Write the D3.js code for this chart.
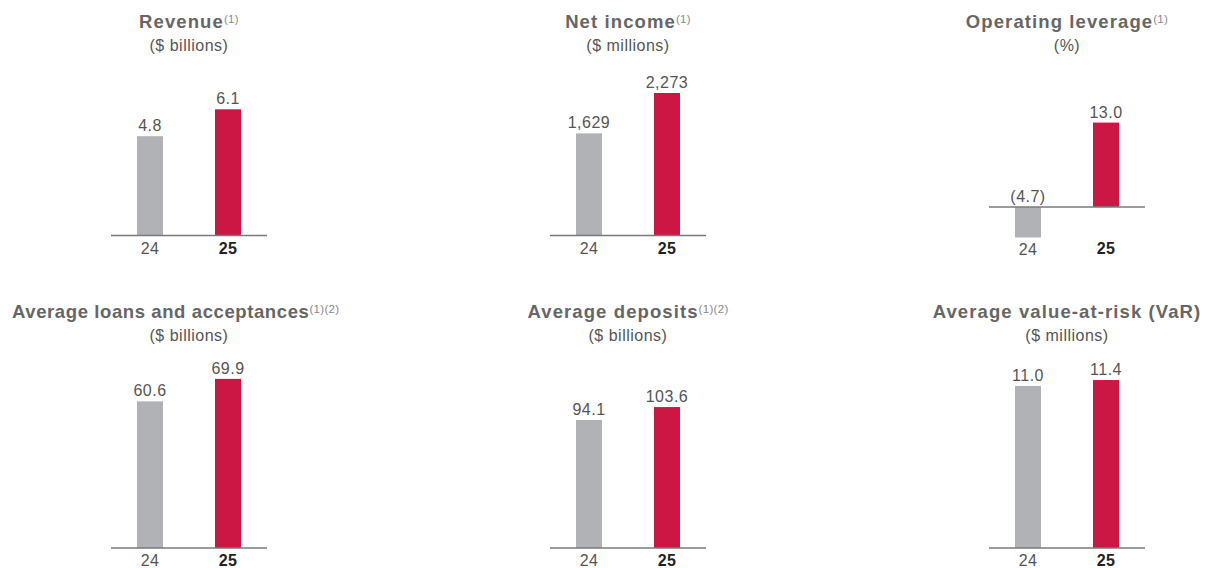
<!DOCTYPE html>
<html>
<head>
<meta charset="utf-8">
<script src="https://cdn.jsdelivr.net/npm/d3@7"></script>
<style>
    html, body { margin: 0; padding: 0; background: #fff; }
    svg { display: block; font-family: "Liberation Sans", Arial, sans-serif; }
</style>
</head>
<body>
<div id="vis"></div>
<script>
// data
var years = ["24", "25"];
var titles = ["Revenue", "Net income", "Operating leverage",
    "Average loans and acceptances", "Average deposits", "Average value-at-risk (VaR)"];
var notes = ["(1)", "(1)", "(1)", "(1)(2)", "(1)(2)", ""];
var units = ["($ billions)", "($ millions)", "(%)", "($ billions)", "($ billions)", "($ millions)"];
var values = [
    [4.8, 6.1],
    [1629, 2273],
    [-4.7, 13.0],
    [60.6, 69.9],
    [94.1, 103.6],
    [11.0, 11.4]
];
var formats = [".1f", ",.0f", ".1f", ".1f", ".1f", ".1f"];
var yDomains = [[0, 8], [0, 2640], [-4.4, 21.1], [0, 77.7], [0, 138.2], [0, 12.76]];

var barColors = ["#b1b2b6", "#cc1744"];

// layout
var width = 1206, height = 568;
var colX = [111, 550, 989];
var axisLen = 156;
var rows = [
    { bottom: 235.5, top: 70, title: 28, unit: 51, tick: 253.5 },
    { bottom: 548, top: 360, title: 318, unit: 341, tick: 566 }
];

var svg = d3.select("#vis")
    .append("svg")
        .attr("width", width)
        .attr("height", height);

var x = d3.scaleBand()
    .domain(years)
    .range([0, axisLen])
    .paddingInner(2 / 3)
    .paddingOuter(1 / 3);

function fmt(v, f)
{
    var s = d3.format(f)(Math.abs(v));
    return v < 0 ? "(" + s + ")" : s;
}

for(var i = 0; i < titles.length; ++i)
{
    var row = rows[Math.floor(i / 3)];
    var x0 = colX[i % 3];
    var cx = x0 + axisLen / 2;

    var y = d3.scaleLinear()
        .domain(yDomains[i])
        .range([row.bottom, row.top]);

    var g = svg.append("g")
        .attr("transform", "translate(" + x0 + ",0)");

    // title + footnote marks
    var title = svg.append("text")
        .attr("x", cx)
        .attr("y", row.title)
        .attr("text-anchor", "middle")
        .attr("fill", "#666")
        .style("font-size", "18.5px")
        .style("font-weight", "bold")
        .style("letter-spacing", "1.1px");
    title.append("tspan").text(titles[i]);
    if(notes[i])
    {
        title.append("tspan")
            .attr("dy", -5)
            .attr("fill", "#888")
            .style("font-size", "11.5px")
            .style("font-weight", "normal")
            .style("letter-spacing", "0.3px")
            .text(notes[i]);
    }
    // long titles get tighter and are pushed to the page edge
    var bb = title.node().getBBox();
    if(bb.width > 300)
    {
        title.style("letter-spacing", "0.6px");
        bb = title.node().getBBox();
        title.attr("text-anchor", "start").attr("x", 12);
    }

    svg.append("text")
        .attr("x", cx)
        .attr("y", row.unit)
        .attr("text-anchor", "middle")
        .attr("fill", "#555")
        .style("font-size", "16px")
        .style("letter-spacing", "0.5px")
        .text(units[i]);

    var d = years.map(function(yr, j) { return { year: yr, v: values[i][j], c: barColors[j], f: formats[i] }; });

    g.selectAll("rect.bar")
        .data(d)
        .enter()
        .append("rect")
            .attr("class", "bar")
            .attr("x", function(e) { return x(e.year); })
            .attr("width", x.bandwidth())
            .attr("y", function(e) { return Math.min(y(e.v), y(0)); })
            .attr("height", function(e) { return Math.abs(y(e.v) - y(0)); })
            .attr("fill", function(e) { return e.c; });

    // baseline
    g.append("line")
        .attr("x1", 0)
        .attr("x2", axisLen)
        .attr("y1", y(0))
        .attr("y2", y(0))
        .attr("stroke", "#7a7a7a")
        .attr("stroke-width", 1.4);

    // value labels (negatives sit above the baseline)
    g.selectAll("text.val")
        .data(d)
        .enter()
        .append("text")
            .attr("class", "val")
            .attr("x", function(e) { return x(e.year) + x.bandwidth() / 2; })
            .attr("y", function(e) { return (e.v < 0 ? y(0) : y(e.v)) - 5; })
            .attr("text-anchor", "middle")
            .attr("fill", "#555")
            .style("font-size", "16px")
            .style("letter-spacing", "0.5px")
            .text(function(e) { return fmt(e.v, e.f); });

    // category labels
    g.selectAll("text.tick")
        .data(d)
        .enter()
        .append("text")
            .attr("class", "tick")
            .attr("x", function(e) { return x(e.year) + x.bandwidth() / 2; })
            .attr("y", function(e) { return Math.max(row.tick, y(Math.min(0, e.v)) + 17.5); })
            .attr("text-anchor", "middle")
            .attr("fill", function(e, j) { return j === 1 ? "#222" : "#555"; })
            .style("font-size", "16px")
            .style("font-weight", function(e, j) { return j === 1 ? "bold" : "normal"; })
            .style("letter-spacing", "0.3px")
            .text(function(e) { return e.year; });
}
</script>
</body>
</html>
